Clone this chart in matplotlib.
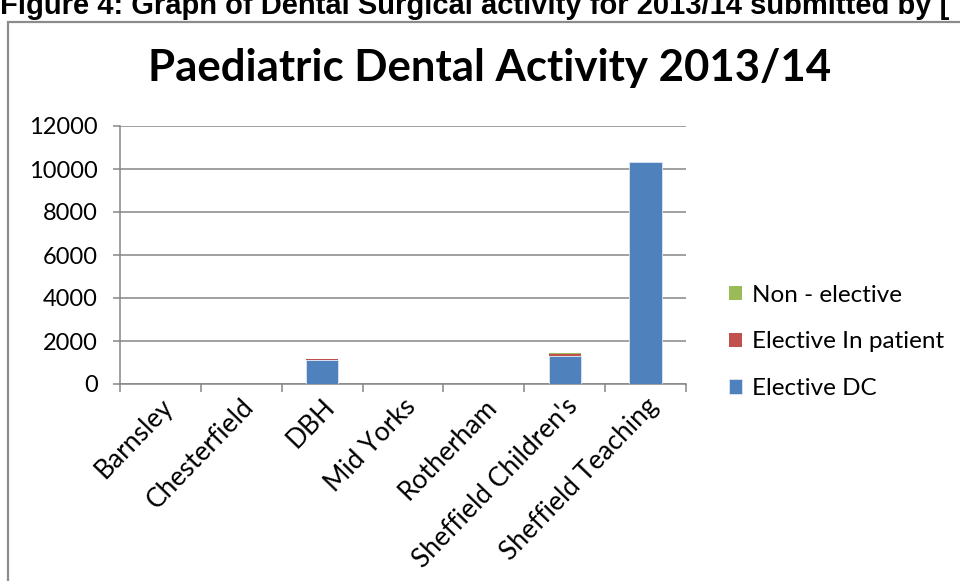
import matplotlib
matplotlib.use("Agg")
import matplotlib.pyplot as plt
from matplotlib.patches import Rectangle
import numpy as np

# Paediatric dental activity 2013/14 by trust
categories = ["Barnsley", "Chesterfield", "DBH", "Mid Yorks", "Rotherham",
              "Sheffield Children's", "Sheffield Teaching"]
elective_dc = [0, 0, 1100, 0, 0, 1320, 10340]
elective_ip = [0, 0, 60, 0, 0, 60, 0]
non_elective = [0, 0, 0, 0, 0, 60, 0]
y_ticks = [0, 2000, 4000, 6000, 8000, 10000, 12000]

blue, red, green = "#4F81BD", "#C0504D", "#9BBB59"
grid_col = "#868686"
font = "Lato"

fig = plt.figure(figsize=(9.6, 5.81), dpi=100)

# document caption above the chart frame (partly cut off at the top)
fig.text(0.0, 1 - 14 / 581, "Figure 4: Graph of Dental Surgical activity for 2013/14 submitted by [",
         family="Liberation Sans", weight="bold", fontsize=21, ha="left", va="baseline")

# chart frame
fig.patches.append(Rectangle((8 / 960, -0.1), 1.0, 1 - 22 / 581 + 0.1, transform=fig.transFigure,
                             fill=False, edgecolor="#8C8C8C", linewidth=1.6))

fig.text(490 / 960, 1 - 68 / 581, "Paediatric Dental Activity 2013/14", family=font,
         weight="bold", fontsize=31.5, ha="center", va="center")

ax = fig.add_axes([120 / 960, 1 - 384 / 581, (686 - 120) / 960, (384 - 126) / 581])
x = np.arange(len(categories))
w = 0.4
dc = np.array(elective_dc)
ip = np.array(elective_ip)
ne = np.array(non_elective)
ax.bar(x, dc, w, color=blue, edgecolor="#DCE6F2", linewidth=0.6, label="Elective DC", zorder=3)
ax.bar(x, ip, w, bottom=dc, color=red, label="Elective In patient", zorder=3)
ax.bar(x, ne, w, bottom=dc + ip, color=green, label="Non - elective", zorder=3)

ax.set_xlim(-0.5, len(categories) - 0.5)
ax.set_ylim(0, 12000)
ax.set_yticks(y_ticks)
ax.set_yticklabels([str(v) for v in y_ticks], family=font, fontsize=17)
ax.yaxis.grid(True, color=grid_col, linewidth=1.1, zorder=0)
ax.set_axisbelow(True)

ax.set_xticks(x)
ax.set_xticklabels(categories, family=font, fontsize=19, rotation=46, ha="right",
                   rotation_mode="anchor")
ax.set_xticks(np.arange(-0.5, len(categories)), minor=True)
ax.tick_params(axis="x", which="major", length=0, pad=7)
ax.tick_params(axis="x", which="minor", length=6, color=grid_col, width=1.1)
ax.tick_params(axis="y", length=5, color=grid_col, width=1.1, pad=11)

for s in ["top", "right"]:
    ax.spines[s].set_visible(False)
for s in ["left", "bottom"]:
    ax.spines[s].set_color(grid_col)
    ax.spines[s].set_linewidth(1.1)

handles, labels = ax.get_legend_handles_labels()
leg = fig.legend(handles[::-1], labels[::-1], loc="center left",
                 bbox_to_anchor=(707 / 960, 1 - 342 / 581), frameon=False,
                 prop={"family": font, "size": 17.5}, handlelength=0.55, handleheight=0.55,
                 handletextpad=0.4, labelspacing=1.06)

fig.savefig("out.png", dpi=100)
